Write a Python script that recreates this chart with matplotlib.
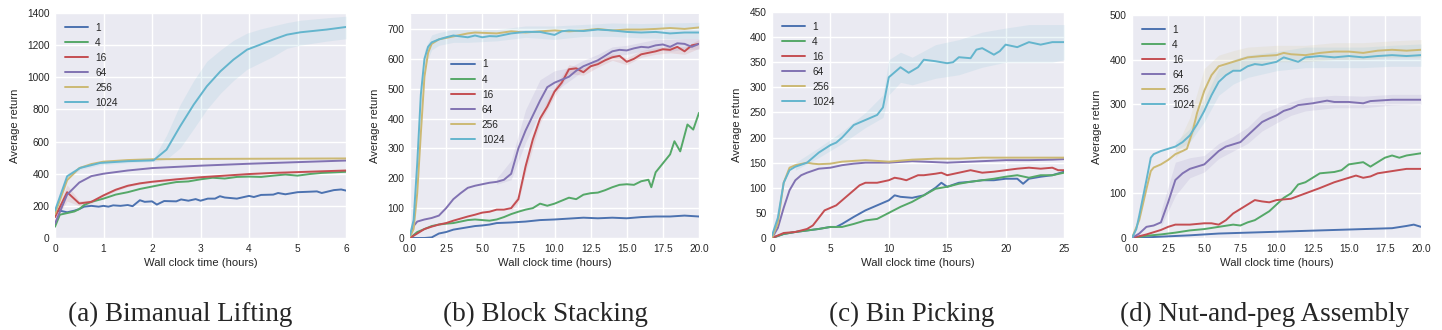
import matplotlib
matplotlib.use("Agg")
import matplotlib.pyplot as plt
import seaborn as sns

sns.set_style("darkgrid")
plt.rcParams['font.family'] = ['Liberation Sans', 'DejaVu Sans']

LABELS = ["1", "4", "16", "64", "256", "1024"]
COLORS = ["#4C72B0", "#55A868", "#C44E52", "#8172B2", "#CCB974", "#64B5CD"]
CAPTIONS = ["(a) Bimanual Lifting", "(b) Block Stacking", "(c) Bin Picking", "(d) Nut-and-peg Assembly"]

# ---------------- Panel (a) Bimanual Lifting ----------------
a_x1 = [0, 0.1, 0.25, 0.4, 0.5, 0.6, 0.75, 0.9, 1.0, 1.1, 1.2, 1.35, 1.5, 1.6, 1.75, 1.85, 2.0, 2.1, 2.25, 2.5, 2.6,
        2.75, 2.9, 3.0, 3.15, 3.3, 3.4, 3.5, 3.75, 4.0, 4.1, 4.25, 4.5, 4.6, 4.75, 5.0, 5.25, 5.4, 5.5, 5.75, 5.9, 6.0]
a_y1 = [165, 170, 160, 170, 180, 195, 200, 195, 200, 195, 203, 200, 205, 198, 235, 225, 228, 208, 230, 228, 240,
        232, 242, 232, 245, 245, 260, 252, 245, 262, 255, 268, 270, 280, 272, 285, 288, 290, 280, 298, 302, 295]
a_x4 = [0, 0.1, 0.25, 0.4, 0.5, 0.6, 0.75, 1.0, 1.25, 1.5, 1.75, 2.0, 2.25, 2.5, 2.75, 3.0, 3.25, 3.5, 3.75, 4.0,
        4.25, 4.5, 4.75, 5.0, 5.25, 5.5, 6.0]
a_y4 = [70, 145, 155, 165, 180, 205, 225, 245, 270, 285, 305, 320, 335, 348, 352, 365, 375, 370, 380, 382,
        380, 388, 395, 388, 398, 405, 412]
a_x16 = [0, 0.25, 0.5, 0.75, 1.0, 1.25, 1.5, 1.75, 2.0, 2.5, 3.0, 3.5, 4.0, 4.5, 5.0, 5.5, 6.0]
a_y16 = [130, 285, 215, 225, 265, 300, 325, 340, 350, 365, 378, 388, 398, 405, 410, 415, 420]
a_x64 = [0, 0.25, 0.5, 0.75, 1.0, 1.25, 1.5, 2.0, 3.0, 4.0, 5.0, 6.0]
a_y64 = [90, 270, 345, 385, 400, 410, 420, 435, 450, 462, 472, 482]
a_x256 = [0, 0.25, 0.5, 0.75, 1.0, 1.5, 2.0, 3.0, 4.0, 5.0, 6.0]
a_y256 = [150, 360, 435, 460, 475, 485, 490, 492, 493, 494, 495]
a_x1024 = [0, 0.25, 0.52, 0.93, 1.5, 2.03, 2.3, 2.58, 2.86, 3.13, 3.41, 3.68, 3.96, 4.23, 4.5, 4.78, 5.06, 5.6, 6.0]
a_y1024 = [170, 384, 436, 467, 478, 483, 550, 695, 830, 944, 1037, 1110, 1172, 1203, 1235, 1265, 1280, 1297, 1313]
a_lo1024 = [160, 370, 425, 455, 468, 475, 490, 560, 680, 800, 900, 980, 1050, 1090, 1130, 1180, 1200, 1225, 1240]
a_hi1024 = [180, 400, 448, 478, 490, 492, 640, 830, 980, 1100, 1170, 1230, 1275, 1300, 1320, 1340, 1355, 1370, 1380]
a_lo16 = [110, 230, 200, 215, 255, 292, 318, 334, 344, 360, 373, 384, 394, 401, 406, 411, 416]
a_hi16 = [150, 330, 232, 237, 277, 310, 334, 348, 358, 372, 385, 394, 404, 411, 416, 421, 426]

# ---------------- Panel (b) Block Stacking ----------------
b_x1 = [0, 1, 1.5, 2, 2.5, 3, 3.5, 4, 4.5, 5, 5.5, 6, 7, 8, 9, 10, 11, 12, 13, 14, 15, 16, 17, 18, 19, 20]
b_y1 = [0, 0, 2, 15, 20, 28, 32, 36, 40, 42, 45, 50, 52, 55, 60, 62, 65, 68, 66, 68, 66, 70, 72, 72, 75, 72]
b_x4 = [0, 0.5, 1, 1.5, 2, 2.5, 3, 3.5, 4, 4.5, 5, 5.5, 6, 6.5, 7, 7.5, 8, 8.5, 9, 9.5, 10, 10.5, 11, 11.5, 12,
        12.5, 13, 13.5, 14, 14.5, 15, 15.5, 16, 16.5, 16.7, 17, 17.5, 18, 18.3, 18.7, 19.2, 19.6, 20]
b_y4 = [0, 20, 30, 40, 45, 48, 50, 55, 60, 62, 60, 58, 62, 70, 80, 88, 95, 100, 115, 108, 115, 125, 135, 130, 145,
        150, 152, 160, 170, 178, 180, 178, 190, 195, 170, 220, 250, 280, 324, 290, 380, 363, 419]
b_x16 = [0, 0.5, 1, 1.5, 2, 2.5, 3, 3.5, 4, 4.5, 5, 5.5, 6, 6.5, 7, 7.5, 8, 8.5, 9, 9.5, 10, 10.5, 11, 11.5, 12,
         12.5, 13, 13.5, 14, 14.5, 15, 15.5, 16, 16.5, 17, 17.5, 18, 18.5, 19, 19.5, 20]
b_y16 = [0, 15, 30, 38, 45, 50, 58, 65, 72, 78, 85, 88, 95, 95, 100, 130, 240, 330, 400, 440, 490, 520, 565, 568, 555,
         575, 582, 595, 605, 610, 590, 600, 615, 620, 625, 632, 630, 640, 625, 645, 650]
b_x64 = [0, 0.25, 0.5, 1, 1.5, 2, 2.5, 3, 3.5, 4, 4.5, 5, 5.5, 6, 6.5, 7, 7.5, 8, 8.5, 9, 9.5, 10, 10.5, 11, 11.5,
         12, 12.5, 13, 13.5, 14, 14.5, 15, 15.5, 16, 16.5, 17, 17.5, 18, 18.5, 19, 19.5, 20]
b_y64 = [5, 40, 55, 62, 67, 75, 100, 130, 150, 168, 175, 180, 185, 188, 195, 215, 300, 360, 410, 460, 505, 520, 530,
         540, 560, 575, 585, 595, 610, 625, 630, 628, 635, 640, 638, 645, 648, 640, 652, 650, 640, 650]
b_x256 = [0, 0.25, 0.5, 0.75, 1.0, 1.25, 1.5, 2, 2.5, 3, 4, 4.5, 5, 6, 7, 8, 9, 10, 11, 12, 13, 14, 15, 16, 17,
          18, 19, 20]
b_y256 = [5, 30, 150, 350, 540, 620, 650, 665, 670, 675, 685, 688, 687, 685, 692, 688, 692, 695, 692, 695, 700,
          695, 698, 698, 700, 703, 700, 705]
b_x1024 = [0, 0.25, 0.5, 0.75, 1.0, 1.25, 1.5, 2, 2.5, 3, 3.5, 4, 4.5, 5, 5.5, 6, 7, 8, 9, 10, 10.5, 11, 12, 13,
           14, 15, 16, 17, 18, 19, 20]
b_y1024 = [10, 60, 250, 480, 600, 640, 655, 665, 672, 678, 675, 672, 678, 672, 676, 675, 685, 690, 690, 680, 692,
           695, 693, 698, 695, 690, 688, 690, 685, 688, 688]
b_bx64 = [6, 7, 8, 9, 10, 11, 12, 13, 14, 15, 16, 17, 18, 19, 20]
b_lo64 = [180, 195, 320, 420, 490, 525, 560, 585, 610, 615, 625, 630, 625, 632, 632]
b_hi64 = [200, 260, 430, 530, 560, 570, 595, 615, 640, 645, 655, 665, 665, 668, 668]
b_bx16 = [7, 7.5, 8, 9, 10, 11, 12, 13, 14, 15, 16, 17, 18, 19, 20]
b_lo16 = [92, 118, 220, 385, 475, 550, 545, 572, 595, 580, 605, 615, 620, 615, 635]
b_hi16 = [110, 145, 260, 415, 505, 580, 570, 595, 617, 603, 627, 637, 642, 640, 665]
b_bx1024 = [1, 1.5, 2, 3, 4, 6, 8, 10, 12, 14, 16, 18, 20]
b_lo1024 = [570, 630, 645, 655, 655, 660, 672, 665, 675, 675, 670, 668, 668]
b_hi1024 = [630, 680, 688, 698, 698, 698, 710, 710, 715, 720, 718, 720, 722]

# ---------------- Panel (c) Bin Picking ----------------
c_x1 = [0, 1, 2, 3, 4, 5, 5.5, 6, 7, 8, 9, 10, 10.5, 11, 12, 13, 14, 14.5, 15, 16, 17, 18, 19, 20, 21, 21.5, 22,
        23, 24, 25]
c_y1 = [0, 8, 12, 15, 18, 22, 22, 28, 42, 55, 65, 75, 85, 82, 80, 85, 100, 110, 102, 110, 112, 115, 115, 118, 118,
        108, 118, 122, 125, 132]
c_x4 = [0, 1, 2, 3, 4, 5, 6, 7, 8, 9, 10, 11, 12, 13, 14, 15, 16, 17, 18, 19, 20, 21, 22, 23, 24, 25]
c_y4 = [0, 8, 12, 15, 18, 22, 22, 28, 35, 38, 50, 62, 72, 85, 98, 102, 108, 112, 115, 118, 122, 125, 120, 125, 125,
        130]
c_x16 = [0, 1, 2, 3, 3.5, 4, 4.5, 5, 5.5, 6, 6.5, 7, 7.5, 8, 9, 10, 10.5, 11, 11.5, 12, 12.5, 13, 14, 14.5, 15, 16,
         17, 18, 19, 20, 21, 22, 23, 24, 24.5, 25]
c_y16 = [0, 10, 12, 18, 25, 40, 55, 60, 65, 75, 85, 95, 105, 110, 110, 115, 120, 118, 115, 120, 125, 125, 128, 130,
         125, 130, 135, 130, 132, 135, 138, 140, 138, 140, 135, 135]
c_x64 = [0, 0.5, 1, 1.5, 2, 2.5, 3, 4, 5, 6, 7, 8, 10, 12, 14, 15, 16, 18, 20, 22, 24, 25]
c_y64 = [0, 20, 60, 95, 115, 125, 130, 138, 140, 145, 148, 150, 150, 153, 151, 150, 151, 153, 155, 155, 156, 157]
c_x256 = [0, 0.5, 1, 1.5, 2, 3, 3.5, 4, 5, 6, 8, 10, 12, 14, 16, 18, 20, 22, 24, 25]
c_y256 = [0, 30, 110, 140, 145, 150, 148, 147, 148, 152, 155, 152, 156, 158, 158, 160, 160, 160, 160, 160]
c_x1024 = [0, 0.5, 1, 1.5, 2, 3, 4, 5, 5.5, 6, 7, 8, 9, 9.5, 10, 10.5, 11, 11.7, 12.5, 13, 14, 15, 15.5, 16, 17,
           17.5, 18, 19, 19.5, 20, 21, 22, 23, 24, 25]
c_y1024 = [5, 40, 110, 135, 142, 150, 170, 185, 190, 200, 225, 235, 245, 260, 320, 330, 340, 329, 340, 355, 352, 348,
           350, 360, 358, 375, 378, 365, 372, 385, 380, 390, 385, 390, 390]
c_bx1024 = [2, 4, 6, 8, 9.5, 10, 11, 12, 14, 16, 18, 20, 22, 24, 25]
c_lo1024 = [135, 160, 188, 220, 240, 285, 310, 305, 318, 325, 340, 350, 350, 350, 355]
c_hi1024 = [150, 180, 212, 250, 285, 355, 370, 360, 385, 395, 410, 418, 425, 425, 425]

# ---------------- Panel (d) Nut-and-peg Assembly ----------------
d_x1 = [0, 2, 4, 6, 8, 10, 12, 14, 16, 18, 19, 19.5, 20]
d_y1 = [0, 3, 6, 10, 12, 14, 16, 18, 20, 22, 27, 30, 25]
d_x4 = [0, 1, 2, 3, 4, 5, 6, 7, 7.5, 8, 8.5, 9, 9.5, 10, 10.5, 11, 11.5, 12, 12.5, 13, 14, 14.5, 15, 16, 16.5, 17,
        17.5, 18, 18.5, 19, 20]
d_y4 = [0, 5, 8, 12, 17, 20, 25, 30, 28, 35, 40, 50, 60, 75, 90, 100, 120, 125, 135, 145, 148, 152, 165, 170, 160,
        170, 180, 185, 180, 185, 190]
d_x16 = [0, 1, 2, 2.5, 3, 4, 5, 5.5, 6, 6.5, 7, 7.5, 8, 8.5, 9, 9.5, 10, 11, 12, 13, 14, 15, 15.5, 16, 16.5, 17,
         18, 19, 20]
d_y16 = [0, 8, 18, 25, 30, 30, 33, 33, 30, 40, 55, 65, 75, 85, 82, 80, 85, 88, 100, 112, 125, 135, 140, 135, 138,
         145, 150, 155, 155]
d_x64 = [0, 0.5, 1, 1.5, 2, 2.5, 3, 3.5, 4, 5, 5.5, 6, 6.5, 7, 7.5, 8, 8.5, 9, 9.5, 10, 10.5, 11, 11.5, 12, 12.5,
         13, 13.5, 14, 15, 16, 16.5, 17, 18, 19, 20]
d_y64 = [0, 10, 25, 28, 35, 80, 130, 145, 155, 165, 180, 195, 205, 210, 215, 230, 245, 260, 268, 275, 285, 290, 298,
         300, 302, 305, 308, 305, 305, 302, 307, 308, 310, 310, 310]
d_x256 = [0, 0.5, 1, 1.3, 1.5, 2, 2.5, 3, 3.5, 3.8, 4.2, 4.5, 5, 5.5, 6, 6.5, 7, 7.5, 8, 9, 10, 10.5, 11, 12, 13,
          14, 15, 16, 17, 18, 19, 20]
d_y256 = [0, 40, 110, 150, 158, 165, 175, 188, 195, 200, 240, 280, 330, 365, 385, 390, 395, 400, 405, 408, 410, 415,
          412, 410, 415, 418, 418, 415, 420, 422, 420, 422]
d_x1024 = [0, 0.3, 0.5, 1, 1.3, 1.5, 2, 2.5, 3, 3.5, 4, 4.5, 5, 5.5, 6, 6.5, 7, 7.5, 8, 8.5, 9, 10, 10.5, 11, 11.5,
           12, 13, 14, 15, 16, 17, 18, 19, 20]
d_y1024 = [0, 20, 50, 130, 180, 188, 195, 200, 205, 215, 230, 255, 285, 320, 350, 365, 375, 375, 385, 390, 388, 395,
           405, 400, 395, 405, 408, 405, 408, 405, 408, 410, 408, 410]
d_bx256 = [3, 4, 5, 6, 7, 8, 10, 12, 14, 16, 18, 20]
d_lo256 = [180, 215, 290, 360, 375, 385, 395, 395, 400, 400, 405, 405]
d_hi256 = [200, 270, 380, 410, 420, 428, 432, 432, 438, 438, 442, 445]
d_bx1024 = [3, 4, 5, 6, 7, 8, 10, 12, 14, 16, 18, 20]
d_lo1024 = [195, 215, 260, 320, 345, 360, 375, 382, 382, 382, 385, 385]
d_hi1024 = [215, 245, 310, 380, 400, 410, 418, 428, 428, 428, 432, 435]
d_bx64 = [2, 3, 4, 5, 6, 7, 8, 9, 10, 11, 12, 14, 16, 18, 20]
d_lo64 = [25, 95, 135, 148, 178, 195, 212, 240, 258, 275, 285, 292, 292, 298, 300]
d_hi64 = [60, 170, 180, 185, 212, 228, 248, 280, 292, 305, 315, 320, 318, 322, 322]

panels = [
    dict(series=[(a_x1, a_y1), (a_x4, a_y4), (a_x16, a_y16), (a_x64, a_y64), (a_x256, a_y256), (a_x1024, a_y1024)],
         bands=[(5, a_x1024, a_lo1024, a_hi1024), (2, a_x16, a_lo16, a_hi16)],
         xlim=(0, 6), ylim=(0, 1400), xticks=[0, 1, 2, 3, 4, 5, 6], xfmt="{:.0f}", yticks=range(0, 1401, 200),
         legend=dict(loc="upper left", bbox_to_anchor=(0.0, 1.0))),
    dict(series=[(b_x1, b_y1), (b_x4, b_y4), (b_x16, b_y16), (b_x64, b_y64), (b_x256, b_y256), (b_x1024, b_y1024)],
         bands=[(3, b_bx64, b_lo64, b_hi64), (2, b_bx16, b_lo16, b_hi16), (5, b_bx1024, b_lo1024, b_hi1024)],
         xlim=(0, 20), ylim=(0, 750), xticks=[0, 2.5, 5, 7.5, 10, 12.5, 15, 17.5, 20], xfmt="{:.1f}",
         yticks=range(0, 701, 100), legend=dict(loc="upper left", bbox_to_anchor=(0.11, 0.84))),
    dict(series=[(c_x1, c_y1), (c_x4, c_y4), (c_x16, c_y16), (c_x64, c_y64), (c_x256, c_y256), (c_x1024, c_y1024)],
         bands=[(5, c_bx1024, c_lo1024, c_hi1024)],
         xlim=(0, 25), ylim=(0, 450), xticks=[0, 5, 10, 15, 20, 25], xfmt="{:.0f}", yticks=range(0, 451, 50),
         legend=dict(loc="upper left", bbox_to_anchor=(0.0, 1.0))),
    dict(series=[(d_x1, d_y1), (d_x4, d_y4), (d_x16, d_y16), (d_x64, d_y64), (d_x256, d_y256), (d_x1024, d_y1024)],
         bands=[(4, d_bx256, d_lo256, d_hi256), (5, d_bx1024, d_lo1024, d_hi1024), (3, d_bx64, d_lo64, d_hi64)],
         xlim=(0, 20), ylim=(0, 500), xticks=[0, 2.5, 5, 7.5, 10, 12.5, 15, 17.5, 20], xfmt="{:.1f}",
         yticks=range(0, 501, 100), legend=dict(loc="upper left", bbox_to_anchor=(0.0, 1.0))),
]

W, H = 1442, 330
fig = plt.figure(figsize=(W / 100, H / 100), dpi=100)
fig.patch.set_facecolor("white")
boxes = [(55, 13, 346, 238), (410, 14, 699, 238), (772, 12, 1064, 238), (1132, 15, 1421, 238)]
cap_x = [180, 545, 912, 1265]

for p, (l, t, r, b), cap, cx in zip(panels, boxes, CAPTIONS, cap_x):
    ax = fig.add_axes([l / W, 1 - b / H, (r - l) / W, (b - t) / H])
    ax.set_facecolor("#EAEAF2")
    for i, bx, lo, hi in p["bands"]:
        ax.fill_between(bx, lo, hi, color=COLORS[i], alpha=0.12, lw=0)
    for (x, y), c, lab in zip(p["series"], COLORS, LABELS):
        ax.plot(x, y, color=c, lw=1.4, label=lab)
    ax.set_xlim(*p["xlim"])
    ax.set_ylim(*p["ylim"])
    ax.set_xticks(p["xticks"])
    ax.set_xticklabels([p["xfmt"].format(v) for v in p["xticks"]])
    ax.set_yticks(list(p["yticks"]))
    ax.tick_params(labelsize=7.3, colors=".15", length=0)
    ax.tick_params(axis="x", pad=4)
    ax.tick_params(axis="y", pad=4)
    ax.grid(True, color="white", lw=1.0)
    for s in ax.spines.values():
        s.set_visible(False)
    ax.set_xlabel("Wall clock time (hours)", fontsize=8.1, color=".15", labelpad=3)
    ax.set_ylabel("Average return", fontsize=8.1, color=".15", labelpad=5)
    ax.legend(frameon=False, fontsize=7.3, handlelength=2.3, handletextpad=0.7, labelspacing=0.5,
              borderaxespad=0.55, **p["legend"])
    fig.text(cx / W, 1 - 321 / H, cap, ha="center", va="baseline", fontsize=19.5, family="Liberation Serif")

fig.savefig("out.png", dpi=100, facecolor="white")
